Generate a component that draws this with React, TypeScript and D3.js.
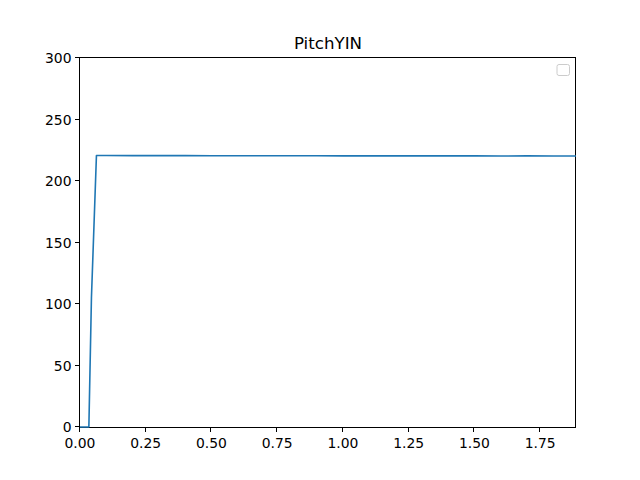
import React from "react";
import * as d3 from "d3";

const title = "PitchYIN";
const times = [0, 0.0116, 0.0232, 0.0337, 0.0435, 0.0625, 0.1, 0.2, 0.3, 0.4, 0.5, 0.6, 0.7, 0.8, 0.9, 1.0, 1.1, 1.2, 1.3, 1.4, 1.5, 1.6, 1.7, 1.8, 1.886];
const pitch = [0, 0, 0, 0, 105, 220.7, 220.7, 220.6, 220.6, 220.6, 220.5, 220.5, 220.5, 220.5, 220.5, 220.4, 220.4, 220.4, 220.4, 220.4, 220.4, 220.3, 220.4, 220.3, 220.3];
const xTicks = [0, 0.25, 0.5, 0.75, 1.0, 1.25, 1.5, 1.75];
const yTicks = [0, 50, 100, 150, 200, 250, 300];
const xDomain = [0, 1.886];
const yDomain = [0, 300];

export default function App() {
  const W = 640, H = 480;
  const left = 80, right = 576, top = 58, bottom = 427;
  const x = d3.scaleLinear().domain(xDomain).range([left, right]);
  const y = d3.scaleLinear().domain(yDomain).range([bottom, top]);
  const line = d3.line<number>().x((_, i) => x(times[i])).y((d) => y(d));
  const font = "DejaVu Sans, sans-serif";
  const r = (v: number) => Math.round(v) + 0.5;
  return (
    <svg width={W} height={H} style={{ position: "absolute", left: 0, top: 0 }} xmlns="http://www.w3.org/2000/svg">
      <rect x={0} y={0} width={W} height={H} fill="#fff" />
      <defs>
        <clipPath id="clip">
          <rect x={left} y={top - 1} width={right - left} height={bottom - top + 2} />
        </clipPath>
      </defs>
      <rect x={left - 0.5} y={top - 0.5} width={right - left} height={bottom - top + 1} fill="none" stroke="#000" strokeWidth={1} />
      <path d={line(pitch) || ""} fill="none" stroke="#1f77b4" strokeWidth={1.6} strokeLinejoin="round" clipPath="url(#clip)" />
      {xTicks.map((t) => (
        <g key={"x" + t}>
          <line x1={r(x(t)) - 1} x2={r(x(t)) - 1} y1={bottom} y2={bottom + 5} stroke="#000" strokeWidth={1} />
          <text x={x(t)} y={bottom + 21} fontFamily={font} fontSize={13.9} textAnchor="middle" fill="#000">{t.toFixed(2)}</text>
        </g>
      ))}
      {yTicks.map((t) => (
        <g key={"y" + t}>
          <line x1={left - 5} x2={left} y1={r(y(t)) - 1} y2={r(y(t)) - 1} stroke="#000" strokeWidth={1} />
          <text x={left - 8.5} y={y(t) + 5} fontFamily={font} fontSize={13.9} textAnchor="end" fill="#000">{t}</text>
        </g>
      ))}
      <text x={(left + right) / 2} y={49} fontFamily={font} fontSize={16.67} textAnchor="middle" fill="#000">{title}</text>
      <rect x={557} y={64.5} width={12.5} height={11} rx={2} ry={2} fill="#fff" stroke="#cccccc" strokeWidth={1} />
    </svg>
  );
}
